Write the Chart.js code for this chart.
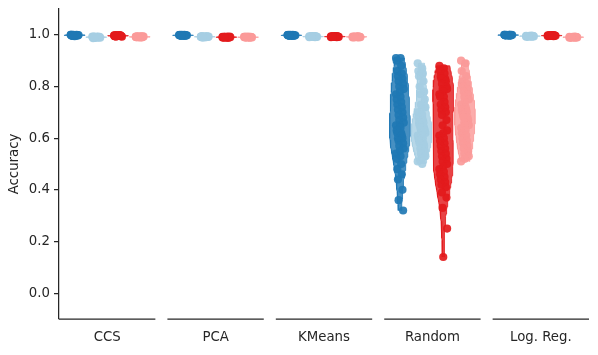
<!DOCTYPE html>
<html>
<head>
<meta charset="utf-8">
<script src="https://cdn.jsdelivr.net/npm/chart.js@4.4.0/dist/chart.umd.min.js"></script>
<style>
    html, body { margin: 0; padding: 0; background: #fff; }
</style>
</head>
<body>
<canvas id="myChart" width="598" height="355"></canvas>
<script>
// categories and tick labels
var methods = ["CCS", "PCA", "KMeans", "Random", "Log. Reg."];
var yTicks = [0.0, 0.2, 0.4, 0.6, 0.8, 1.0];
var hueColors = ["31,120,180", "166,206,227", "227,26,28", "251,154,153"];

// accuracy values, 4 hue groups per method
var ccs = [
    [1.0, 0.999, 0.998, 0.997, 1.0, 0.998, 0.996, 0.999, 1.0, 0.997, 0.998, 0.999, 0.995, 1.0, 0.998, 0.997, 0.999, 0.996, 1.0, 0.998],
    [0.993, 0.991, 0.990, 0.992, 0.989, 0.991, 0.993, 0.990, 0.988, 0.992, 0.991, 0.989, 0.990, 0.992, 0.991, 0.987, 0.993, 0.990, 0.991, 0.992],
    [0.998, 0.996, 0.995, 0.997, 0.999, 0.996, 0.994, 0.997, 0.998, 0.995, 0.996, 0.993, 0.997, 0.996, 0.998, 0.995, 0.997, 0.996, 0.999, 0.994],
    [0.993, 0.992, 0.991, 0.994, 0.992, 0.990, 0.993, 0.992, 0.991, 0.994, 0.992, 0.993, 0.990, 0.992, 0.993, 0.991, 0.992, 0.994, 0.991, 0.992]
];
var pca = [
    [0.999, 0.998, 1.0, 0.997, 0.998, 0.999, 0.996, 0.998, 1.0, 0.997, 0.999, 0.998, 0.996, 0.999, 0.998, 0.997, 1.0, 0.998, 0.997, 0.999],
    [0.993, 0.992, 0.994, 0.991, 0.993, 0.992, 0.990, 0.994, 0.993, 0.992, 0.991, 0.993, 0.994, 0.992, 0.991, 0.993, 0.992, 0.990, 0.993, 0.992],
    [0.992, 0.991, 0.990, 0.992, 0.991, 0.989, 0.992, 0.990, 0.991, 0.993, 0.990, 0.991, 0.992, 0.990, 0.989, 0.991, 0.992, 0.990, 0.991, 0.992],
    [0.992, 0.991, 0.990, 0.991, 0.992, 0.990, 0.991, 0.992, 0.990, 0.991, 0.993, 0.990, 0.991, 0.992, 0.990, 0.991, 0.992, 0.991, 0.990, 0.991]
];
var kmeans = [
    [0.999, 0.998, 1.0, 0.997, 0.998, 0.999, 0.996, 0.998, 1.0, 0.997, 0.999, 0.998, 0.996, 0.999, 0.998, 0.997, 1.0, 0.998, 0.997, 0.999],
    [0.994, 0.993, 0.992, 0.994, 0.993, 0.991, 0.993, 0.994, 0.992, 0.993, 0.994, 0.992, 0.993, 0.991, 0.994, 0.993, 0.992, 0.993, 0.994, 0.992],
    [0.994, 0.993, 0.992, 0.994, 0.993, 0.991, 0.993, 0.994, 0.992, 0.993, 0.994, 0.992, 0.993, 0.991, 0.994, 0.993, 0.992, 0.993, 0.994, 0.992],
    [0.993, 0.992, 0.991, 0.993, 0.992, 0.990, 0.992, 0.993, 0.991, 0.992, 0.993, 0.991, 0.992, 0.990, 0.993, 0.992, 0.991, 0.992, 0.993, 0.991]
];
var random = [
    [0.91, 0.91, 0.90, 0.88, 0.86, 0.85, 0.84, 0.83, 0.82, 0.81, 0.80, 0.79, 0.78, 0.77, 0.76, 0.75, 0.74, 0.73, 0.72, 0.71, 0.70, 0.69, 0.68, 0.67, 0.66, 0.65, 0.65, 0.64, 0.63, 0.62, 0.62, 0.61, 0.60, 0.60, 0.59, 0.58, 0.57, 0.56, 0.55, 0.54, 0.53, 0.52, 0.50, 0.48, 0.46, 0.44, 0.40, 0.36, 0.32],
    [0.89, 0.87, 0.86, 0.85, 0.84, 0.82, 0.80, 0.78, 0.77, 0.75, 0.73, 0.72, 0.71, 0.70, 0.69, 0.68, 0.67, 0.66, 0.66, 0.65, 0.64, 0.64, 0.63, 0.63, 0.62, 0.62, 0.61, 0.61, 0.60, 0.60, 0.59, 0.58, 0.58, 0.57, 0.56, 0.55, 0.54, 0.53, 0.52, 0.51, 0.50],
    [0.88, 0.87, 0.86, 0.85, 0.84, 0.83, 0.83, 0.82, 0.81, 0.80, 0.79, 0.79, 0.78, 0.77, 0.76, 0.76, 0.74, 0.73, 0.72, 0.71, 0.70, 0.69, 0.67, 0.65, 0.63, 0.62, 0.61, 0.60, 0.59, 0.58, 0.57, 0.56, 0.55, 0.54, 0.53, 0.52, 0.51, 0.50, 0.49, 0.48, 0.47, 0.46, 0.45, 0.44, 0.43, 0.42, 0.41, 0.39, 0.37, 0.33, 0.25, 0.14],
    [0.90, 0.89, 0.86, 0.84, 0.82, 0.81, 0.80, 0.79, 0.78, 0.77, 0.76, 0.75, 0.74, 0.73, 0.72, 0.71, 0.71, 0.70, 0.70, 0.69, 0.68, 0.68, 0.67, 0.66, 0.65, 0.65, 0.64, 0.63, 0.62, 0.61, 0.60, 0.59, 0.58, 0.57, 0.56, 0.55, 0.54, 0.53, 0.52, 0.51]
];
var logReg = [
    [1.0, 0.999, 0.998, 1.0, 0.999, 0.997, 1.0, 0.998, 0.999, 1.0, 0.998, 0.999, 0.997, 1.0, 0.999, 0.998, 1.0, 0.999, 0.998, 0.999],
    [0.996, 0.995, 0.994, 0.996, 0.995, 0.993, 0.995, 0.996, 0.994, 0.995, 0.996, 0.994, 0.995, 0.993, 0.996, 0.995, 0.994, 0.995, 0.996, 0.994],
    [0.998, 0.997, 0.996, 0.998, 0.997, 0.995, 0.997, 0.998, 0.996, 0.997, 0.998, 0.996, 0.997, 0.995, 0.998, 0.997, 0.996, 0.997, 0.998, 0.996],
    [0.992, 0.991, 0.990, 0.992, 0.991, 0.989, 0.991, 0.992, 0.990, 0.991, 0.992, 0.990, 0.991, 0.989, 0.992, 0.991, 0.990, 0.991, 0.992, 0.990]
];
var groups = [ccs, pca, kmeans, random, logReg];

var gap = 1.125;          // one subplot width + space between subplots
var hueOffsets = [-0.3375, -0.1125, 0.1125, 0.3375];
var violinHalf = 0.108;
var jitter = 0.04;
var textColor = "#262626";
var font = {family: "'DejaVu Sans', sans-serif", size: 13.3};

function violinPoints(vals, center) {
    var n = vals.length;
    var mean = vals.reduce(function (a, b) { return a + b; }, 0) / n;
    var sd = Math.sqrt(vals.reduce(function (a, b) { return a + (b - mean) * (b - mean); }, 0) / (n - 1));
    var bw = sd * Math.pow(n, -0.2);
    var lo = Math.min.apply(null, vals), hi = Math.max.apply(null, vals);
    var steps = 80, ys = [], ds = [];
    for (var k = 0; k <= steps; k++) {
        var y = lo + (hi - lo) * k / steps;
        var d = 0;
        vals.forEach(function (v) { d += Math.exp(-0.5 * Math.pow((y - v) / bw, 2)); });
        ys.push(y);
        ds.push(d);
    }
    var dmax = Math.max.apply(null, ds);
    var pts = [];
    for (var i = 0; i < ys.length; i++) pts.push({x: center + violinHalf * ds[i] / dmax, y: ys[i]});
    for (var j = ys.length - 1; j >= 0; j--) pts.push({x: center - violinHalf * ds[j] / dmax, y: ys[j]});
    return pts;
}

var datasets = [];
groups.forEach(function (grp, gi) {
    grp.forEach(function (vals, hi) {
        var center = gi * gap + hueOffsets[hi];
        var col = hueColors[hi];
        datasets.push({
            type: 'line',
            data: violinPoints(vals, center),
            showLine: true,
            fill: 'shape',
            tension: 0,
            backgroundColor: "rgba(" + col + ",0.82)",
            borderColor: "rgba(" + col + ",0.82)",
            borderWidth: 1,
            pointRadius: 0,
            order: 2
        });
        datasets.push({
            type: 'scatter',
            data: vals.map(function (v, i) {
                var j = (((i * 7) % 13) / 12 - 0.5) * 2 * jitter;
                return {x: center + j, y: v};
            }),
            backgroundColor: "rgba(" + col + ",0.92)",
            borderWidth: 0,
            pointRadius: 4.1,
            order: 1
        });
    });
});

var segmentsPlugin = {
    id: 'segments',
    afterDatasetsDraw: function (chart) {
        var ctx = chart.ctx, xs = chart.scales.x, bottom = chart.chartArea.bottom;
        ctx.save();
        ctx.strokeStyle = textColor;
        ctx.lineWidth = 1.25;
        methods.forEach(function (m, i) {
            ctx.beginPath();
            ctx.moveTo(xs.getPixelForValue(i * gap - 0.5), bottom);
            ctx.lineTo(xs.getPixelForValue(i * gap + 0.5), bottom);
            ctx.stroke();
        });
        ctx.restore();
    }
};

let c = document.getElementById("myChart").getContext("2d");
var chart = new Chart(c, {
    type: 'scatter',
    data: {datasets: datasets},
    options: {
        responsive: false,
        animation: false,
        devicePixelRatio: 1,
        layout: {padding: {top: 9, right: 9, left: 0, bottom: 0}},
        plugins: {legend: {display: false}, tooltip: {enabled: false}},
        scales: {
            x: {
                type: 'linear',
                min: -0.5,
                max: (methods.length - 1) * gap + 0.5,
                grid: {display: false},
                border: {display: false},
                afterBuildTicks: function (scale) {
                    scale.ticks = methods.map(function (m, i) { return {value: i * gap}; });
                },
                afterFit: function (scale) {
                    scale.height = 36;
                    scale.paddingLeft = 0;
                    scale.paddingRight = 0;
                },
                ticks: {
                    autoSkip: false,
                    maxRotation: 0,
                    padding: 3,
                    color: textColor,
                    font: font,
                    callback: function (v, i) { return methods[i]; }
                }
            },
            y: {
                min: -0.1,
                max: 1.1,
                afterBuildTicks: function (scale) {
                    scale.ticks = yTicks.map(function (v) { return {value: v}; });
                },
                afterFit: function (scale) {
                    scale.width = 59;
                    scale.paddingTop = 0;
                    scale.paddingBottom = 0;
                },
                grid: {drawOnChartArea: false, drawTicks: true, tickLength: 5, color: textColor, lineWidth: 1.25},
                border: {display: true, color: textColor, width: 1.25},
                ticks: {
                    padding: 4,
                    color: textColor,
                    font: font,
                    callback: function (v) { return Number(v).toFixed(1); }
                },
                title: {display: true, text: 'Accuracy', color: textColor, font: font, padding: {top: 7, bottom: 0}}
            }
        }
    },
    plugins: [segmentsPlugin]
});
</script>
</body>
</html>
